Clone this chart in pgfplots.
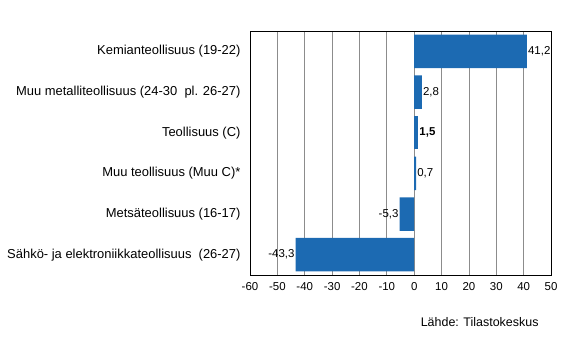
\documentclass[border=0pt]{standalone}
\usepackage{pgfplots}
\pgfplotsset{compat=1.18}
\usepackage{fontspec}
\setmainfont{Liberation Sans}
\definecolor{barblue}{RGB}{28,106,178}
\begin{document}
\begin{tikzpicture}[x=1bp,y=1bp]
\path[use as bounding box] (0,0) rectangle (566,361);
\begin{axis}[
  at={(250bp,86bp)}, anchor=south west,
  scale only axis, width=301bp, height=244bp,
  xmin=-60, xmax=50, ymin=-0.5, ymax=5.5,
  y dir=reverse,
  xtick={-60,-50,...,50},
  ytick={0,1,2,3,4,5},
  yticklabels={Kemianteollisuus (19-22),Muu metalliteollisuus (24-30\ \ pl. 26-27),Teollisuus (C)\ ,Muu teollisuus (Muu C)*,Metsäteollisuus (16-17),Sähkö- ja elektroniikkateollisuus\ \ (26-27)},
  xticklabel style={font=\fontsize{11.5}{13}\selectfont, yshift=-4bp},
  yticklabel style={font=\fontsize{13}{15}\selectfont, xshift=-6bp},
  /pgf/number format/assume math mode=true,
  major tick length=0pt,
  xmajorgrids, ymajorgrids=false,
  grid style={draw=gray!90, line width=0.8bp},
  axis line style={black, line width=1bp},
  xbar, bar width=33.5bp,
  nodes near coords,
  point meta=explicit symbolic,
  every node near coord/.append style={font=\fontsize{11.5}{13}\selectfont, inner sep=1bp},
]
\addplot[fill=barblue, draw=none, bar shift=0pt,
  every node near coord/.append style={anchor=west}]
  table[meta=lab] {
x y lab
41.2 0 {41,2}
2.8 1 {2,8}
0.7 3 {0,7}
};
\addplot[fill=barblue, draw=none, bar shift=0pt,
  every node near coord/.append style={anchor=west, font=\fontsize{11.5}{13}\selectfont\bfseries}]
  table[meta=lab] {
x y lab
1.5 2 {1,5}
};
\addplot[fill=barblue, draw=none, bar shift=0pt,
  every node near coord/.append style={anchor=east}]
  table[meta=lab] {
x y lab
-5.3 4 {-5,3}
-43.3 5 {-43,3}
};
\draw[black, line width=2bp] (rel axis cs:0,1) -- (rel axis cs:1,1);
\end{axis}
\node[anchor=east, font=\fontsize{12.5}{14}\selectfont] at (542,39) {Lähde: Tilastokeskus};
\end{tikzpicture}
\end{document}
